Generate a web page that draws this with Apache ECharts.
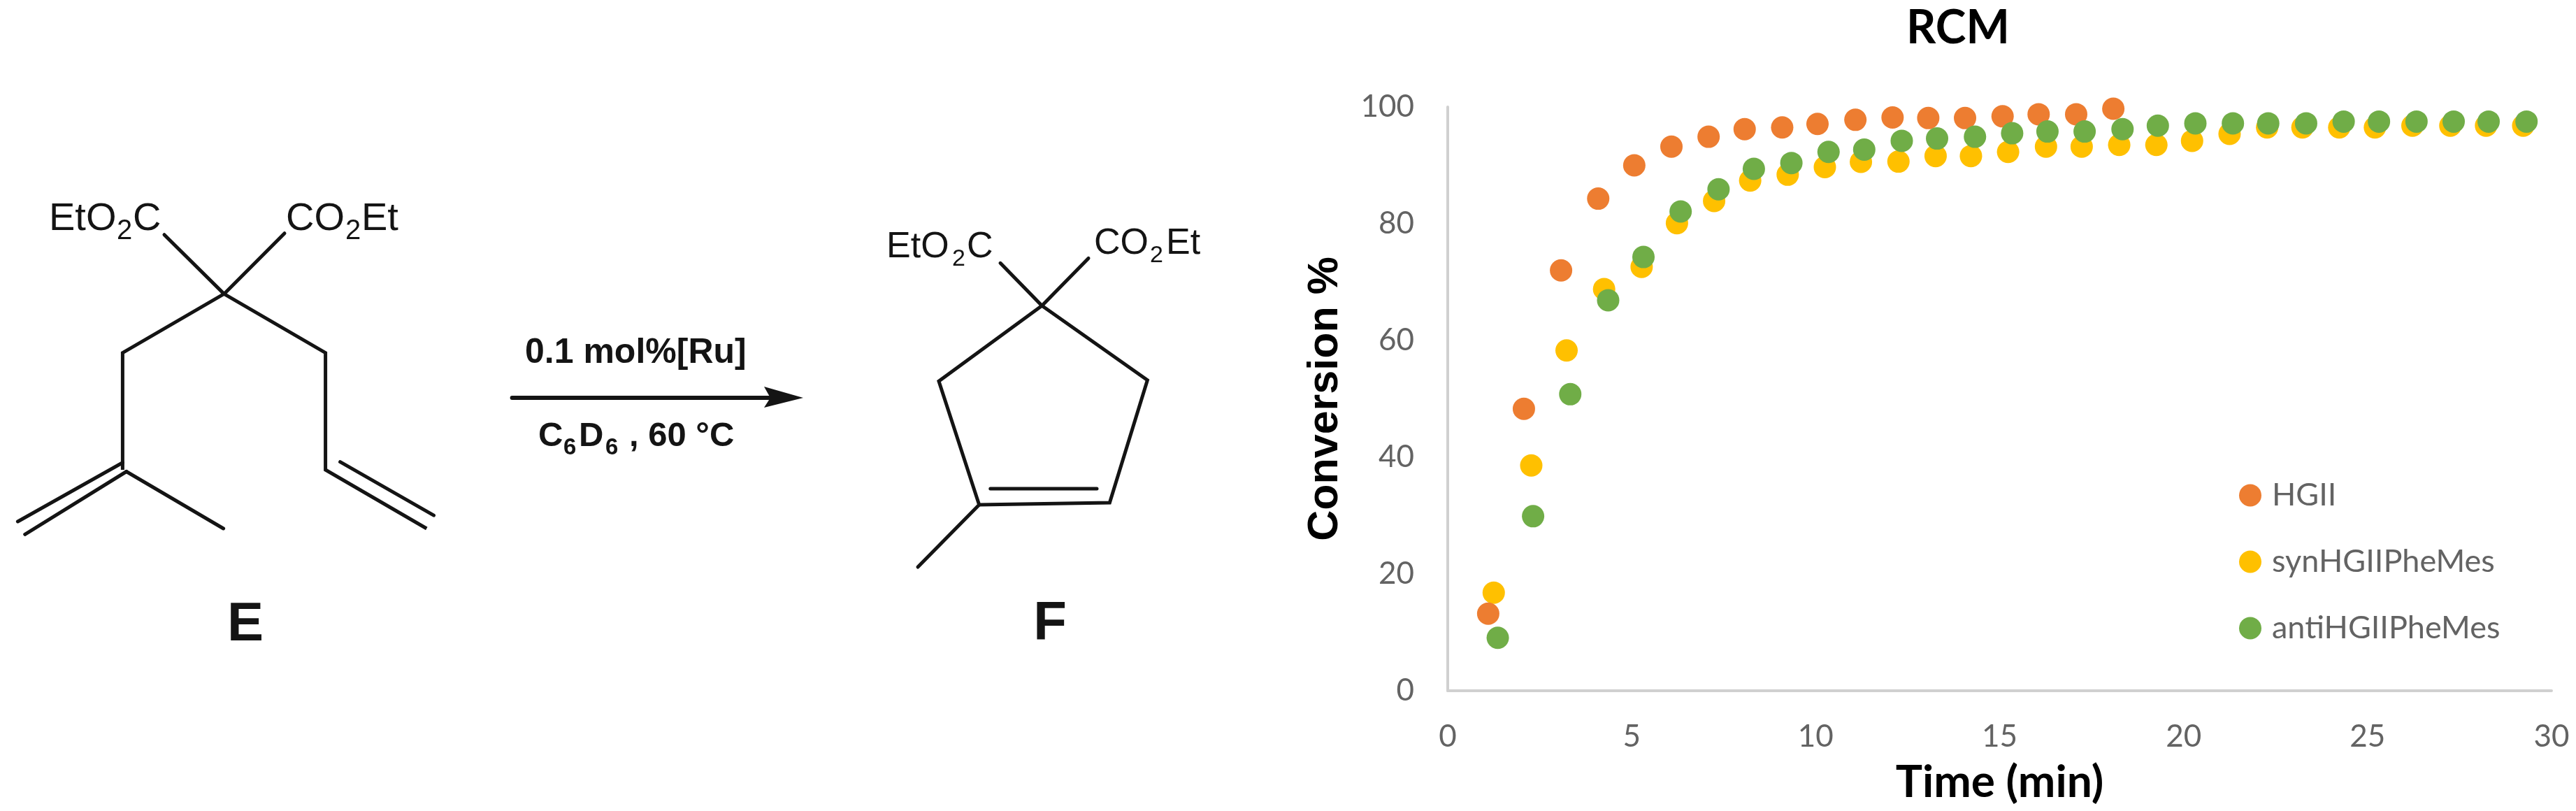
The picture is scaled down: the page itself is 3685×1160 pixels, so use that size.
<!DOCTYPE html>
<html><head><meta charset="utf-8">
<style>html,body{margin:0;padding:0;background:#fff}#c{width:3685px;height:1160px}</style>
<script src="https://cdn.jsdelivr.net/npm/echarts@6/dist/echarts.min.js"></script>
</head><body><div id="c"></div>
<script>
const seriesNames = ['HGII','synHGIIPheMes','antiHGIIPheMes'];
const xTicks = [0,5,10,15,20,25,30];
const hgiiTime = [1.10,2.07,3.08,4.09,5.07,6.08,7.09,8.07,9.09,10.05,11.08,12.09,13.06,14.06,15.08,16.06,17.08,18.09];
const hgiiConv = [13.2,48.3,72.0,84.3,90.0,93.2,94.9,96.2,96.5,97.1,97.8,98.2,98.1,98.1,98.4,98.75,98.75,99.7];
const synTime = [1.25,2.27,3.23,4.25,5.27,6.23,7.24,8.22,9.24,10.25,11.23,12.25,13.26,14.22,15.23,16.26,17.23,18.25,19.26,20.23,21.25,22.27,23.23,24.23,25.2,26.22,27.25,28.22,29.23];
const synConv = [16.8,38.6,58.3,68.8,72.6,80.1,83.9,87.4,88.4,89.7,90.6,90.65,91.6,91.6,92.3,93.2,93.2,93.5,93.5,94.2,95.4,96.5,96.5,96.5,96.5,96.8,96.8,96.8,96.8];
const antiTime = [1.36,2.32,3.33,4.36,5.32,6.33,7.36,8.32,9.34,10.35,11.32,12.34,13.3,14.33,15.34,16.3,17.31,18.34,19.3,20.32,21.34,22.3,23.33,24.35,25.31,26.33,27.34,28.29,29.32];
const antiConv = [9.07,29.9,50.8,66.9,74.3,82.1,85.9,89.4,90.4,92.3,92.7,94.2,94.6,94.9,95.5,95.8,95.8,96.2,96.8,97.2,97.2,97.2,97.2,97.5,97.5,97.5,97.5,97.5,97.5];

const zip = (a,b)=>a.map((v,i)=>[v,b[i]]);
const ink = '#141414';
const ln = (x1,y1,x2,y2,w)=>({type:'line',silent:true,shape:{x1,y1,x2,y2},style:{stroke:ink,lineWidth:w||5,lineCap:'round'}});
const pl = (pts,w)=>({type:'polyline',silent:true,shape:{points:pts},style:{stroke:ink,fill:null,lineWidth:w||5,lineJoin:'miter'}});
// y is the text baseline; converted to a vertically-centred anchor
const tx = (text,x,y,size,bold,align)=>({type:'text',silent:true,x,y:y-0.35*size,style:{text,fill:ink,font:(bold?'bold ':'')+size+'px "Liberation Sans"',verticalAlign:'middle',align:align||'left'}});

const art = [
  // compound E
  ln(320.5,420.4,235,335.7), ln(320.5,420.4,407,333.7),
  pl([[320.5,420.4],[175.4,504.6],[175.4,672]]),
  pl([[320.5,420.4],[465.6,504.6],[465.6,672],[610.3,756]]),
  ln(175.4,661.7,25.4,746), ln(180.8,674.5,35.7,764.3), ln(180.8,674.5,319.6,756),
  ln(486.6,660.7,620.5,737.2),
  tx('EtO',70,333,56), tx('2',167,345,40), tx('C',190,333,56),
  tx('CO',409,333,56), tx('2',494,345,40), tx('Et',517,333,56),
  tx('E',351,922,78,true,'center'),
  // arrow
  ln(732.6,569,1105,569,6),
  {type:'polygon',silent:true,shape:{points:[[1093,553],[1149,569],[1093,583],[1102,569]]},style:{fill:ink}},
  tx('0.1 mol%[Ru]',751,523,50,true),
  tx('C',770,642,49,true), tx('6',806,652,33,true), tx('D',828,642,49,true), tx('6',866,652,33,true),
  tx(', 60 °C',900,642,49,true),
  // compound F
  ln(1490.5,437.3,1431,376.3), ln(1490.5,437.3,1557,369.4),
  pl([[1490.5,437.3],[1343,545.2],[1400.7,722],[1587.4,719],[1641.4,543.8],[1490.5,437.3]]),
  ln(1416.8,699,1569,699), ln(1400.7,722,1313,811),
  tx('EtO',1268,372,52), tx('2',1362,383,34), tx('C',1383,372,52),
  tx('CO',1565,367,52), tx('2',1645,378,34), tx('Et',1668,367,52),
  tx('F',1502,921,78,true,'center')
];

const gray = '#636363';
const axisLine = {show:true,lineStyle:{color:'#D0D0D0',width:4}};
const chart = echarts.init(document.getElementById('c'));
chart.setOption({
  animation:false, backgroundColor:'#fff',
  title:{text:'RCM',left:2796,top:3,textAlign:'center',textStyle:{fontFamily:'Lato',fontWeight:'bold',fontSize:66,color:'#000'}},
  grid:{left:2071,top:153,width:1579,height:835,containLabel:false},
  legend:{orient:'vertical',left:3198,top:681,itemWidth:32,itemHeight:32,itemGap:50,icon:'circle',
    data:seriesNames,textStyle:{fontFamily:'Lato',fontSize:45,color:gray,padding:[0,0,0,10]}},
  xAxis:{type:'value',min:0,max:30,interval:5,name:'Time (min)',nameLocation:'middle',nameGap:99,
    nameTextStyle:{fontFamily:'Lato',fontWeight:'bold',fontSize:64,color:'#000'},
    axisLine,axisTick:{show:false},splitLine:{show:false},
    axisLabel:{margin:44,fontFamily:'Lato',fontSize:44,color:gray,showMaxLabel:true}},
  yAxis:{type:'value',min:0,max:100,interval:20,name:'Conversion %',nameLocation:'middle',nameGap:144,nameRotate:90,
    nameTextStyle:{fontFamily:'Liberation Sans',fontWeight:'bold',fontSize:61,color:'#000'},
    axisLine,axisTick:{show:false},splitLine:{show:false},
    axisLabel:{margin:48,fontFamily:'Lato',fontSize:44,color:gray}},
  series:[
    {name:seriesNames[0],type:'scatter',z:3,symbolSize:32,clip:false,itemStyle:{color:'#ED7D31',opacity:1},data:zip(hgiiTime,hgiiConv)},
    {name:seriesNames[1],type:'scatter',z:2,symbolSize:32,clip:false,itemStyle:{color:'#FFC000',opacity:1},data:zip(synTime,synConv)},
    {name:seriesNames[2],type:'scatter',z:4,symbolSize:32,clip:false,itemStyle:{color:'#70AD47',opacity:1},data:zip(antiTime,antiConv)}
  ],
  graphic:{elements:art}
});
</script></body></html>
